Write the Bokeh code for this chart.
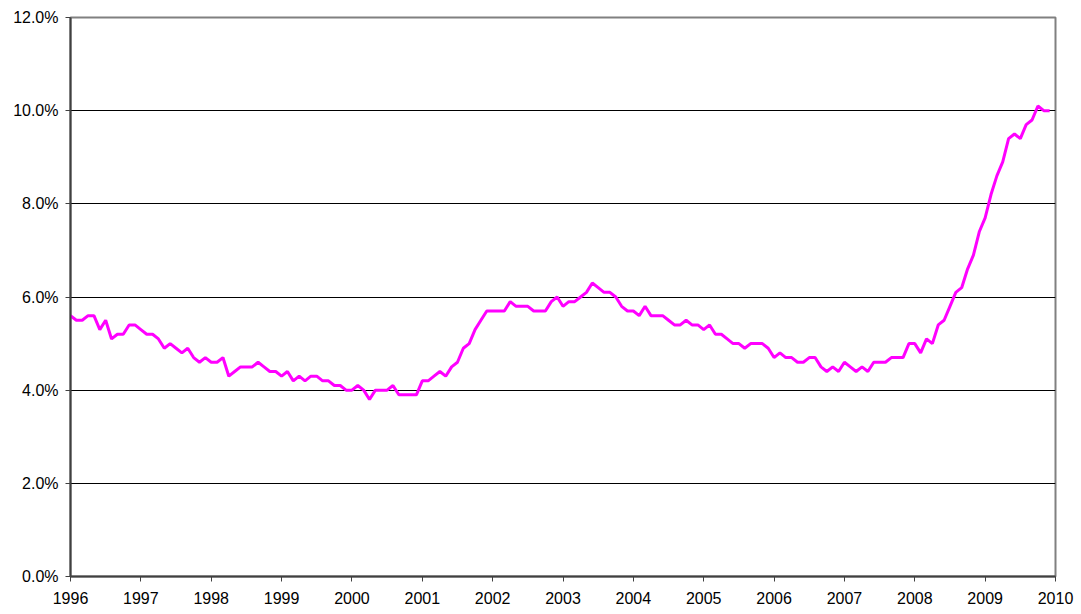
from bokeh.plotting import figure
from bokeh.models import FixedTicker, PrintfTickFormatter, Range1d
from bokeh.embed import file_html
from bokeh.resources import INLINE

years = list(range(1996, 2010))
rates = [
    [5.6, 5.5, 5.5, 5.6, 5.6, 5.3, 5.5, 5.1, 5.2, 5.2, 5.4, 5.4],  # 1996
    [5.3, 5.2, 5.2, 5.1, 4.9, 5.0, 4.9, 4.8, 4.9, 4.7, 4.6, 4.7],  # 1997
    [4.6, 4.6, 4.7, 4.3, 4.4, 4.5, 4.5, 4.5, 4.6, 4.5, 4.4, 4.4],  # 1998
    [4.3, 4.4, 4.2, 4.3, 4.2, 4.3, 4.3, 4.2, 4.2, 4.1, 4.1, 4.0],  # 1999
    [4.0, 4.1, 4.0, 3.8, 4.0, 4.0, 4.0, 4.1, 3.9, 3.9, 3.9, 3.9],  # 2000
    [4.2, 4.2, 4.3, 4.4, 4.3, 4.5, 4.6, 4.9, 5.0, 5.3, 5.5, 5.7],  # 2001
    [5.7, 5.7, 5.7, 5.9, 5.8, 5.8, 5.8, 5.7, 5.7, 5.7, 5.9, 6.0],  # 2002
    [5.8, 5.9, 5.9, 6.0, 6.1, 6.3, 6.2, 6.1, 6.1, 6.0, 5.8, 5.7],  # 2003
    [5.7, 5.6, 5.8, 5.6, 5.6, 5.6, 5.5, 5.4, 5.4, 5.5, 5.4, 5.4],  # 2004
    [5.3, 5.4, 5.2, 5.2, 5.1, 5.0, 5.0, 4.9, 5.0, 5.0, 5.0, 4.9],  # 2005
    [4.7, 4.8, 4.7, 4.7, 4.6, 4.6, 4.7, 4.7, 4.5, 4.4, 4.5, 4.4],  # 2006
    [4.6, 4.5, 4.4, 4.5, 4.4, 4.6, 4.6, 4.6, 4.7, 4.7, 4.7, 5.0],  # 2007
    [5.0, 4.8, 5.1, 5.0, 5.4, 5.5, 5.8, 6.1, 6.2, 6.6, 6.9, 7.4],  # 2008
    [7.7, 8.2, 8.6, 8.9, 9.4, 9.5, 9.4, 9.7, 9.8, 10.1, 10.0, 10.0],  # 2009
]
x_ticks = list(range(1996, 2011))
y_ticks = [0, 2, 4, 6, 8, 10, 12]

xs = []
ys = []
for yr, row in zip(years, rates):
    for m, v in enumerate(row):
        xs.append(yr + m / 12.0)
        ys.append(v)

p = figure(width=1076, height=612, output_backend="svg", toolbar_location=None,
           x_range=Range1d(1996, 2010), y_range=Range1d(0, 12),
           min_border_left=70, min_border_right=21, min_border_top=17, min_border_bottom=36)

p.line(xs, ys, line_color="#FF00FF", line_width=3)

p.xaxis.ticker = FixedTicker(ticks=x_ticks)
p.yaxis.ticker = FixedTicker(ticks=y_ticks)
p.yaxis.formatter = PrintfTickFormatter(format="%.1f%%")

for ax in (p.xaxis, p.yaxis):
    ax.axis_line_color = "#404040"
    ax.axis_line_width = 2
    ax.major_tick_line_color = "#404040"
    ax.major_tick_in = 0
    ax.major_tick_out = 5
    ax.minor_tick_line_color = None
    ax.major_label_text_font = "Liberation Sans"
    ax.major_label_text_font_size = "16px"
    ax.major_label_text_color = "#000000"
    ax.major_label_standoff = 7
p.xaxis.major_label_standoff = 10

p.xgrid.grid_line_color = None
p.ygrid.grid_line_color = "#000000"
p.ygrid.grid_line_width = 1

p.outline_line_color = "#808080"
p.outline_line_width = 2
p.background_fill_color = "white"
p.border_fill_color = "white"

open("out.html", "w").write(file_html(p, INLINE))
